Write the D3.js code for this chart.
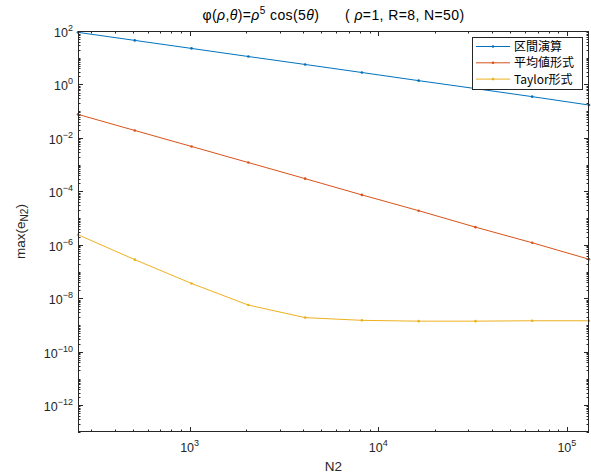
<!DOCTYPE html>
<html>
<head>
<meta charset="utf-8">
<script src="https://cdn.jsdelivr.net/npm/d3@7"></script>
<style>
  body { margin: 0; background: #fff; }
  svg { display: block; font-family: "Liberation Sans", Arial, sans-serif; }
  .jp { font-family: "Noto Sans CJK JP", "Liberation Sans", sans-serif; }
</style>
</head>
<body>
<div id="chart"></div>
<script>
// N2 sample sizes (x values)
const n2 = [256, 512, 1024, 2048, 4096, 8192, 16384, 32768, 65536, 131072];

// max error for each method
const intervalErr = [89, 44.5, 22.3, 11.1, 5.6, 2.8, 1.39, 0.70, 0.35, 0.17];
const meanValueErr = [0.076, 0.019, 0.0048, 0.0012, 3.0e-4, 7.4e-5, 1.9e-5, 4.6e-6, 1.2e-6, 2.9e-7];
const taylorErr = [2.4e-6, 2.8e-7, 3.6e-8, 5.6e-9, 1.9e-9, 1.5e-9, 1.4e-9, 1.4e-9, 1.45e-9, 1.45e-9];

const seriesNames = ["区間演算", "平均値形式", "Taylor形式"];
const seriesColors = ["#0072BD", "#D95319", "#EDB120"];

// tick labels
const xTickExps = [3, 4, 5];
const yTickExps = [2, 0, -2, -4, -6, -8, -10, -12];

const width = 591, height = 476;
const margin = { top: 31, right: 2, bottom: 44, left: 78 };
const axisColor = "#262626";

const svg = d3.select("#chart").append("svg")
  .attr("width", width)
  .attr("height", height);

const x = d3.scaleLog()
  .domain([256, 131072])
  .range([margin.left, width - margin.right]);

const y = d3.scaleLog()
  .domain([1e-13, 1e2])
  .range([height - margin.bottom, margin.top]);

const x0 = x.range()[0], x1 = x.range()[1];
const y0 = y.range()[0], y1 = y.range()[1];

// ----- ticks (inward, on all four sides like a boxed matlab axes)
const ticks = svg.append("g").attr("stroke", axisColor).attr("stroke-width", 1);

// x minor/major ticks
const xTicks = [];
for (let d = 2; d <= 5; d++) {
  for (let k = 1; k <= 9; k++) {
    const v = k * Math.pow(10, d);
    if (v >= 256 && v <= 131072) xTicks.push({ v: v, major: k === 1 });
  }
}
xTicks.forEach(t => {
  const len = t.major ? 5 : 2.5;
  const px = Math.round(x(t.v)) + 0.5;
  ticks.append("line").attr("x1", px).attr("x2", px).attr("y1", y0).attr("y2", y0 - len);
  ticks.append("line").attr("x1", px).attr("x2", px).attr("y1", y1).attr("y2", y1 + len);
});

// y minor/major ticks
const yTicks = [];
for (let d = -13; d <= 2; d++) {
  for (let k = 1; k <= 9; k++) {
    const v = k * Math.pow(10, d);
    if (v >= 1e-13 && v <= 1e2 * 1.0001) yTicks.push({ v: v, major: k === 1 && d % 2 === 0 });
  }
}
yTicks.forEach(t => {
  const len = t.major ? 5 : 2.5;
  const py = Math.round(y(t.v)) + 0.5;
  ticks.append("line").attr("y1", py).attr("y2", py).attr("x1", x0).attr("x2", x0 + len);
  ticks.append("line").attr("y1", py).attr("y2", py).attr("x1", x1).attr("x2", x1 - len);
});

// ----- data lines
const line = d3.line()
  .x((d, i) => x(n2[i]))
  .y(d => y(d));

const allSeries = [intervalErr, meanValueErr, taylorErr];
const plot = svg.append("g");
allSeries.forEach((vals, s) => {
  plot.append("path")
    .datum(vals)
    .attr("fill", "none")
    .attr("stroke", seriesColors[s])
    .attr("stroke-width", 1)
    .attr("d", line);
  plot.selectAll(".pt" + s)
    .data(vals)
    .enter()
    .append("circle")
    .attr("cx", (d, i) => x(n2[i]))
    .attr("cy", d => y(d))
    .attr("r", 1.3)
    .attr("fill", seriesColors[s]);
});

// ----- frame
svg.append("rect")
  .attr("x", x0 + 0.5)
  .attr("y", y1 + 0.5)
  .attr("width", x1 - x0 - 1)
  .attr("height", y0 - y1 - 1)
  .attr("fill", "none")
  .attr("stroke", axisColor)
  .attr("stroke-width", 1);

// ----- tick labels with superscripts
const labelColor = "#262626";
xTickExps.forEach(e => {
  const t = svg.append("text")
    .attr("x", x(Math.pow(10, e)))
    .attr("y", y0 + 20)
    .attr("text-anchor", "middle")
    .attr("font-size", 12.5)
    .attr("fill", labelColor);
  t.append("tspan").text("10");
  t.append("tspan").attr("dy", -6).attr("font-size", 9).text(e);
});

yTickExps.forEach(e => {
  const t = svg.append("text")
    .attr("x", x0 - 5)
    .attr("y", y(Math.pow(10, e)) + 6)
    .attr("text-anchor", "end")
    .attr("font-size", 12.5)
    .attr("fill", labelColor);
  t.append("tspan").text("10");
  t.append("tspan").attr("dy", -6).attr("font-size", 9).text(e < 0 ? "\u2212" + (-e) : e);
});

// ----- axis labels
svg.append("text")
  .attr("x", (x0 + x1) / 2)
  .attr("y", y0 + 39)
  .attr("text-anchor", "middle")
  .attr("font-size", 13.5)
  .attr("fill", labelColor)
  .text("N2");

const yl = svg.append("text")
  .attr("transform", `translate(25,${(y0 + y1) / 2}) rotate(-90)`)
  .attr("text-anchor", "middle")
  .attr("font-size", 13.5)
  .attr("fill", labelColor);
yl.append("tspan").text("max(e");
yl.append("tspan").attr("dy", 3).attr("font-size", 10).text("N2");
yl.append("tspan").attr("dy", -3).text(")");

// ----- title
const title = svg.append("text")
  .attr("x", (x0 + x1) / 2)
  .attr("y", 20)
  .attr("text-anchor", "middle")
  .attr("font-size", 14)
  .attr("letter-spacing", 0.4)
  .attr("fill", "#000");
title.append("tspan").text("φ(");
title.append("tspan").attr("font-style", "italic").text("ρ");
title.append("tspan").text(",");
title.append("tspan").attr("font-style", "italic").text("θ");
title.append("tspan").text(")=");
title.append("tspan").attr("font-style", "italic").text("ρ");
title.append("tspan").attr("dy", -6).attr("font-size", 10).text("5");
title.append("tspan").attr("dy", 6).text(" cos(5");
title.append("tspan").attr("font-style", "italic").text("θ");
title.append("tspan").attr("xml:space", "preserve").text(")      ( ");
title.append("tspan").attr("font-style", "italic").text("ρ");
title.append("tspan").text("=1, R=8, N=50)");

// ----- legend
const legend = svg.append("g").attr("transform", "translate(472,37)");
legend.append("rect")
  .attr("x", 0.5).attr("y", 0.5)
  .attr("width", 110).attr("height", 52)
  .attr("fill", "#fff")
  .attr("stroke", axisColor)
  .attr("stroke-width", 1);

seriesNames.forEach((name, i) => {
  const ly = 9.5 + i * 16.3;
  legend.append("line")
    .attr("x1", 4).attr("x2", 38)
    .attr("y1", ly).attr("y2", ly)
    .attr("stroke", seriesColors[i])
    .attr("stroke-width", 1);
  legend.append("circle")
    .attr("cx", 21).attr("cy", ly).attr("r", 1.3)
    .attr("fill", seriesColors[i]);
  legend.append("text")
    .attr("class", "jp")
    .attr("x", 42)
    .attr("y", ly + 4.5)
    .attr("font-size", 12)
    .attr("fill", "#000")
    .text(name);
});
</script>
</body>
</html>
